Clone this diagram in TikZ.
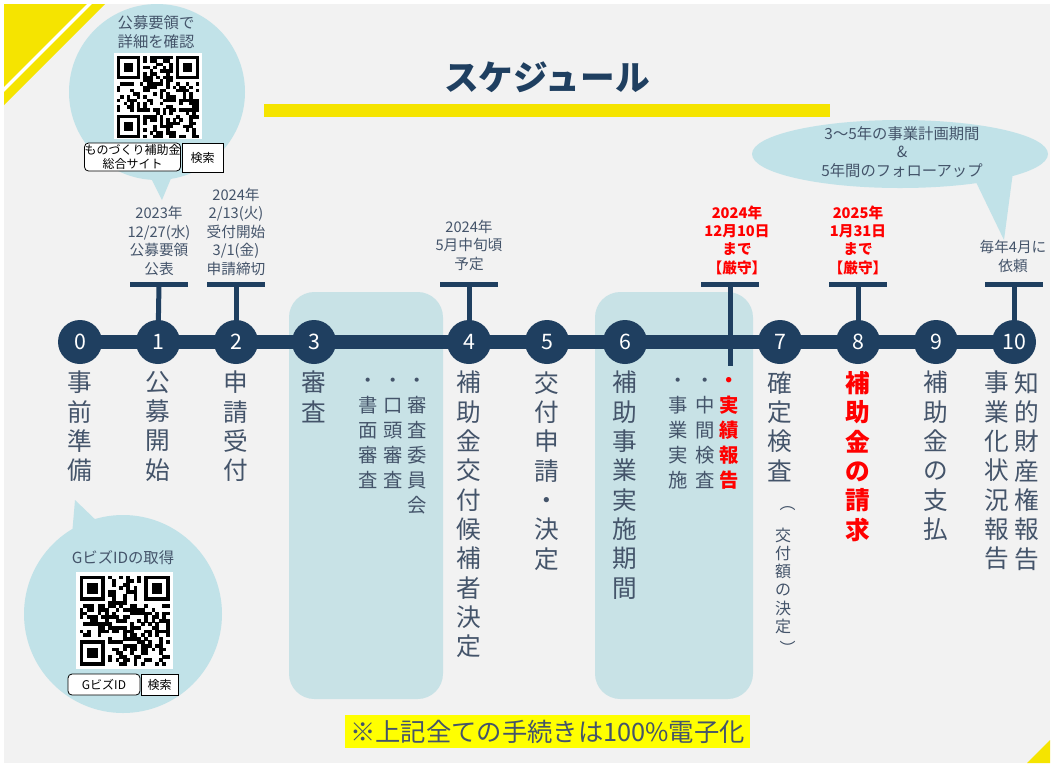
\documentclass[tikz,border=0pt]{standalone}
\usepackage{fontspec}
\setmainfont{Noto Sans CJK JP}
\usetikzlibrary{calc}
\definecolor{navy}{RGB}{31,63,96}
\definecolor{txt}{RGB}{68,84,106}
\definecolor{bub}{RGB}{193,226,232}
\definecolor{pan}{RGB}{200,226,230}
\definecolor{yel}{RGB}{245,228,0}
\definecolor{hl}{RGB}{255,255,0}
\definecolor{bgc}{RGB}{242,242,242}
\definecolor{redc}{RGB}{255,0,0}
\newcommand\fmainx{\fontsize{18.5pt}{22pt}\selectfont}
\newcommand\fsubx{\fontsize{14.5pt}{18.75pt}\selectfont}
\newcommand\fsmallx{\fontsize{12pt}{13.7pt}\selectfont}
\newcommand\fdatex{\fontsize{11pt}{13.9pt}\selectfont}
\newcommand\fredx{\fontsize{11pt}{13.7pt}\selectfont\bfseries}
\newcommand\fbubx{\fontsize{11.5pt}{13.9pt}\selectfont}
\newcommand\fbtnx{\fontsize{9pt}{10pt}\selectfont}
\newcommand\qrcode[4]{%
 \pgfmathsetseed{#4}%
 \foreach \i in {0,...,24}{%
  \foreach \j in {0,...,24}{%
   \pgfmathtruncatemacro\qon{((\i<8 && \j<8) || (\i>16 && \j<8) || (\i<8 && \j>16)) ? 0 : (rnd>0.5 ? 1 : 0)}%
   \ifnum\qon=1 \fill[black] ({#1+\i*#3},{#2+\j*#3}) rectangle ++({#3+0.2},{#3+0.2});\fi
  }}%
 \foreach \a/\b in {0/0,18/0,0/18}{%
   \fill[black] ({#1+\a*#3},{#2+\b*#3}) rectangle ++({7*#3},{7*#3});
   \fill[white] ({#1+(\a+1)*#3},{#2+(\b+1)*#3}) rectangle ++({5*#3},{5*#3});
   \fill[black] ({#1+(\a+2)*#3},{#2+(\b+2)*#3}) rectangle ++({3*#3},{3*#3});
 }%
}
\tikzset{
 vlab/.style={font=\fmainx, text=txt, align=center, inner sep=0pt, anchor=north},
 slab/.style={font=\fsubx, text=txt, align=center, inner sep=0pt, anchor=north},
 num/.style={circle, fill=navy, text=white, minimum size=33pt, inner sep=0pt, font=\fontsize{16pt}{16pt}\selectfont},
 tline/.style={navy, line width=10.5pt},
 tickbar/.style={navy, line width=3.75pt},
 dlab/.style={font=\fdatex, text=txt, align=center, inner sep=0pt, anchor=south},
 rlab/.style={font=\fredx, text=redc, align=center, inner sep=0pt, anchor=south},
 btxt/.style={font=\fbubx, text=txt, align=center, inner sep=0pt},
 btn/.style={draw=black, line width=0.6pt, fill=white, font=\fbtnx, text=black, align=center, inner sep=0pt}
}
\begin{document}
\begin{tikzpicture}[x=0.75pt,y=-0.75pt]
\useasboundingbox (0,0) rectangle (1053,765);
\fill[white] (0,0) rectangle (1053,765);
\fill[bgc] (4,4) rectangle (1050,763);
\begin{scope}
 \clip (4,4) rectangle (1050,763);
 \fill[yel] (4,4) -- (105,4) -- (4,105) -- cycle;
 \draw[white, line width=2.4pt] (93.5,0) -- (0,93.5);
 \fill[yel] (1050,740) -- (1050,763) -- (1027,763) -- cycle;
\end{scope}
% title
\node[font=\fontsize{26pt}{26pt}\selectfont\bfseries, text=navy, inner sep=0pt] (ttl) at (547,77) {スケジュール};
\fill[yel] (264,104) rectangle (830,117);
% panels
\fill[pan, rounded corners=19pt] (289,292) rectangle (443,699);
\fill[pan, rounded corners=19pt] (595,292) rectangle (753,699);
% bubbles
\fill[bub] (157,92) circle (88);
\fill[bub] (150,176) -- (172,176) -- (162,200) -- cycle;
\fill[bub] (123,614) circle (99);
\fill[bub] (72,535) -- (100,524) -- (75,500) -- cycle;
\fill[bub] (900,154) ellipse [x radius=148, y radius=34];
\fill[bub] (975,180) -- (1013,172) -- (1004,240) -- cycle;
% bubble contents
\node[btxt] (b1t) at (156,32) {公募要領で\\詳細を確認};
\fill[white] (114,53) rectangle (202,139);
\qrcode{117}{56}{3.28}{11}
\node[btn, rounded corners=3pt, minimum width=71.25pt, minimum height=21pt] (bt1) at (132.5,157) {ものづくり補助金\\総合サイト};
\node[btn, minimum width=30.75pt, minimum height=21.75pt] (bt2) at (202.5,157.5) {検索};
\node[btxt, font=\fontsize{11.5pt}{13pt}\selectfont] (b2t) at (123,558) {GビズIDの取得};
\fill[white] (76,572) rectangle (173,669);
\qrcode{79.5}{575.5}{3.6}{5}
\node[btn, rounded corners=3pt, minimum width=54pt, minimum height=15.75pt] (bt3) at (104,684.5) {GビズID};
\node[btn, minimum width=27.75pt, minimum height=15.75pt] (bt4) at (159.5,684.5) {検索};
\node[btxt] (b3t) at (902,152) {3〜5年の事業計画期間\\\&\\5年間のフォローアップ};
% timeline
\foreach \k/\x in {0/80,1/158,2/236,3/314,4/469,5/547,6/625,7/780,8/858,9/936,10/1014}{\coordinate (p\k) at (\x,342);}
\draw[tline] (p0) -- (p10);
% ticks
\coordinate (k1) at (159,284);
\coordinate (k2) at (236,284);
\coordinate (k4) at (469,284);
\coordinate (k6) at (730,284);
\coordinate (k6e) at (730,366);
\coordinate (k8) at (858,284);
\coordinate (k10) at (1014,284);
\foreach \k in {k1,k2,k4,k6,k8,k10}{\draw[tickbar] ($(\k)+(-29,0)$) -- ($(\k)+(29,0)$);}
\draw[tickbar] (k1) -- (p1);
\draw[tickbar] (k2) -- (p2);
\draw[tickbar] (k4) -- (p4);
\draw[tickbar] (k6) -- (k6e);
\draw[tickbar] (k8) -- (p8);
\draw[tickbar] (k10) -- (p10);
% circles
\foreach \k in {0,...,10}{\node[num] (c\k) at (p\k) {\k};}
% date labels
\node[dlab] (d1) at (159,276) {2023年\\12/27(水)\\公募要領\\公表};
\node[dlab] (d2) at (236,276) {2024年\\2/13(火)\\受付開始\\3/1(金)\\申請締切};
\node[dlab] (d4) at (469,271) {2024年\\5月中旬頃\\予定};
\node[rlab] (d6) at (737,275) {2024年\\12月10日\\まで\\【厳守】};
\node[rlab] (d8) at (858,275) {2025年\\1月31日\\まで\\【厳守】};
\node[dlab] (d10) at (1013,273) {毎年4月に\\依頼};
% vertical labels
\node[vlab] (l0) at (80,371) {事\\前\\準\\備};
\node[vlab] (l1) at (158,371) {公\\募\\開\\始};
\node[vlab] (l2) at (236,371) {申\\請\\受\\付};
\node[vlab] (l3) at (314,371) {審\\査};
\node[vlab] (l4) at (469,371) {補\\助\\金\\交\\付\\候\\補\\者\\決\\定};
\node[vlab] (l5) at (547,371) {交\\付\\申\\請\\・\\決\\定};
\node[vlab] (l6) at (625,371) {補\\助\\事\\業\\実\\施\\期\\間};
\node[vlab] (l7) at (780,371) {確\\定\\検\\査};
\node[vlab, text=redc, font=\fmainx\bfseries] (l8) at (858,371) {補\\助\\金\\の\\請\\求};
\node[vlab] (l9) at (936,371) {補\\助\\金\\の\\支\\払};
\node[vlab] (l10a) at (1027,371) {知\\的\\財\\産\\権\\報\\告};
\node[vlab] (l10b) at (997,371) {事\\業\\化\\状\\況\\報\\告};
% sub items
\node[slab] (s3a) at (417,371) {\vphantom{審}・\\審\\査\\委\\員\\会};
\node[slab] (s3b) at (393,371) {\vphantom{審}・\\口\\頭\\審\\査};
\node[slab] (s3c) at (368,371) {\vphantom{審}・\\書\\面\\審\\査};
\node[slab] (s6a) at (678,371) {\vphantom{審}・\\事\\業\\実\\施};
\node[slab] (s6b) at (705,371) {\vphantom{審}・\\中\\間\\検\\査};
\node[slab, text=redc, font=\fsubx\bfseries] (s6c) at (729,371) {\vphantom{審}・\\実\\績\\報\\告};
\node[slab, font=\fsmallx] (s7) at (783,509) {\vphantom{交}\smash{\raisebox{10pt}{\makebox[0pt][c]{\hspace{7pt}︵}}}\\交\\付\\額\\の\\決\\定\\\raisebox{-3pt}{\makebox[0pt][c]{\hspace{7pt}︶}}};
% note
\node[fill=hl, text=txt, inner sep=0pt, minimum width=303.75pt, minimum height=24.75pt, font=\fontsize{19pt}{19pt}\selectfont] (note) at (547.5,731.5) {※上記全ての手続きは100\%電子化};
\end{tikzpicture}
\end{document}
